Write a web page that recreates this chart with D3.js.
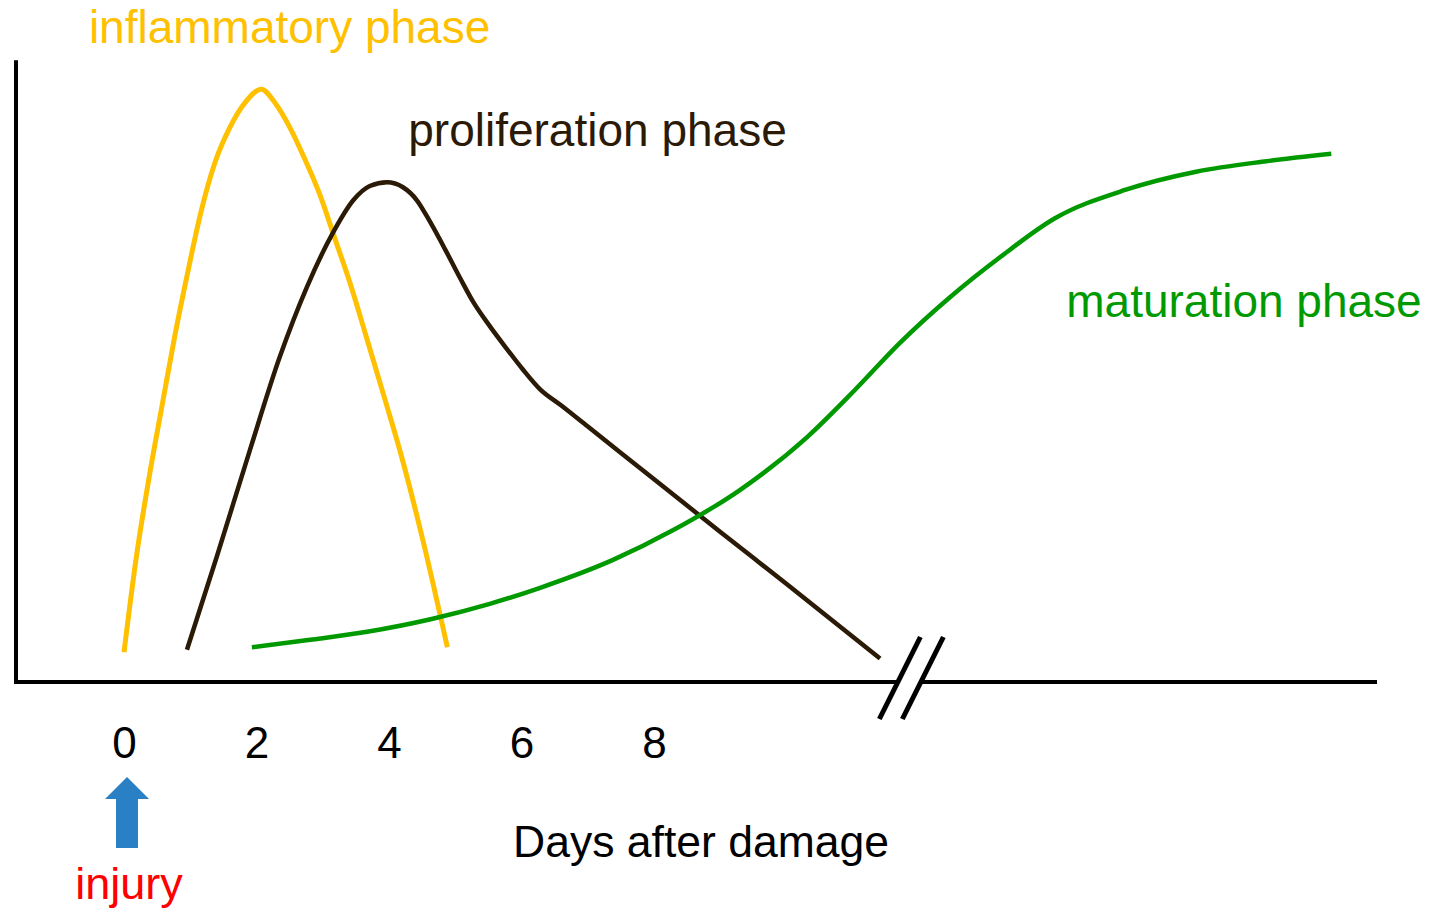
<!DOCTYPE html>
<html>
<head>
<meta charset="utf-8">
<script src="https://cdn.jsdelivr.net/npm/d3@7"></script>
<style>
    body { margin: 0; background: #fff; }
    text { font-family: "Liberation Sans", Arial, sans-serif; }
</style>
</head>
<body>
<div class="chart"></div>
<script>
// days after damage, relative level
const inflammDays = [0, 0.18, 0.39, 0.59, 0.77, 0.97, 1.15, 1.37, 1.60, 1.83, 2.07, 2.28, 2.51, 2.73, 2.96, 3.18, 3.41, 3.67, 3.94, 4.17, 4.51, 4.88];
const inflammVals = [4.8, 19.7, 33.7, 45.5, 56.0, 66.5, 75.3, 83.7, 89.5, 93.5, 95.6, 93.4, 89.3, 84.3, 78.5, 71.6, 64.4, 55.2, 45.5, 37.1, 22.9, 5.6];

const prolifDays = [0.95, 1.40, 1.90, 2.35, 2.76, 3.15, 3.46, 3.71, 3.97, 4.21, 4.42, 4.62, 4.85, 5.07, 5.27, 5.52, 5.78, 6.02, 6.28, 6.6, 7.0, 8.0, 9.0, 10.0, 11.41];
const prolifVals = [5.2, 20.2, 37.4, 52.4, 63.7, 72.4, 77.7, 80.0, 80.6, 79.8, 77.7, 74.2, 69.7, 65.2, 61.3, 57.4, 53.7, 50.4, 47.2, 44.6, 41.2, 32.7, 24.2, 15.8, 3.8];

const maturDays = [1.93, 2.81, 3.67, 4.66, 5.52, 6.28, 7.38, 8.29, 9.30, 10.31, 11.03, 11.71, 12.47, 13.22, 14.05, 15.12, 16.18, 17.24, 18.22];
const maturVals = [5.6, 6.8, 8.1, 10.2, 12.6, 15.2, 19.7, 24.5, 31.0, 39.5, 47.1, 54.7, 62.1, 68.5, 74.8, 79.4, 82.3, 84.0, 85.2];

const tickDays = [0, 2, 4, 6, 8];
const breakDay = 11.86;
const injuryDay = 0;

const phaseNames = ["inflammatory phase", "proliferation phase", "maturation phase"];
const phaseColors = ["#ffc000", "#2a1a06", "#009a00"];
const labelDays = [-0.53, 4.29, 14.22];
const labelVals = [103.1, 86.5, 58.9];

const width = 1429, height = 912;

const svg = d3.select(".chart")
    .append("svg")
    .attr("width", width)
    .attr("height", height);

let x = d3.scaleLinear().domain([-1.63, 18.91]).range([16, 1377]);
let y = d3.scaleLinear().domain([0, 100]).range([682, 62]);

// y axis (no ticks, only the line)
let yAxis = d3.axisLeft(y).ticks(0).tickSizeOuter(0);
svg.append("g")
    .attr("class", "axis y-axis")
    .attr("transform", `translate(${x(-1.63)}, 0)`)
    .call(yAxis)
    .call(g => g.select(".domain")
        .attr("stroke", "#000")
        .attr("stroke-width", 4)
        .attr("d", `M0,${y(0) + 2}V${y(100.3)}`));

// x axis line with a break
const gap = 11.5;
svg.append("line")
    .attr("x1", x(-1.63)).attr("x2", x(breakDay) - gap)
    .attr("y1", y(0)).attr("y2", y(0))
    .attr("stroke", "#000").attr("stroke-width", 4);
svg.append("line")
    .attr("x1", x(breakDay) + gap).attr("x2", x(18.91))
    .attr("y1", y(0)).attr("y2", y(0))
    .attr("stroke", "#000").attr("stroke-width", 4);

[-gap, gap].forEach(off => {
    svg.append("line")
        .attr("x1", x(breakDay) + off - 19)
        .attr("y1", y(0) + 37)
        .attr("x2", x(breakDay) + off + 22)
        .attr("y2", y(0) - 45)
        .attr("stroke", "#000")
        .attr("stroke-width", 5);
});

// tick labels
let xAxis = d3.axisBottom(x).tickValues(tickDays).tickSize(0).tickPadding(0);
svg.append("g")
    .attr("class", "axis x-axis")
    .attr("transform", `translate(0, ${y(0)})`)
    .call(xAxis)
    .call(g => g.select(".domain").remove())
    .call(g => g.selectAll("text")
        .attr("dy", null)
        .attr("y", 76)
        .attr("fill", "#000")
        .style("font-size", "44px")
        .style("font-family", "'Liberation Sans', Arial, sans-serif"));

// curves
const series = [
    inflammDays.map((d, i) => [d, inflammVals[i]]),
    prolifDays.map((d, i) => [d, prolifVals[i]]),
    maturDays.map((d, i) => [d, maturVals[i]])
];
const strokeW = [5, 4.5, 4.5];

let line = d3.line()
    .x(d => x(d[0]))
    .y(d => y(d[1]))
    .curve(d3.curveMonotoneX);

series.forEach((s, i) => {
    svg.append("path")
        .datum(s)
        .attr("fill", "none")
        .attr("stroke", phaseColors[i])
        .attr("stroke-width", strokeW[i])
        .attr("d", line);
});

// phase labels
phaseNames.forEach((name, i) => {
    svg.append("text")
        .attr("x", x(labelDays[i]))
        .attr("y", y(labelVals[i]))
        .attr("fill", phaseColors[i])
        .style("font-size", "46px")
        .text(name);
});

// injury arrow
const ax = x(injuryDay) + 3;
const arrow = d3.path();
arrow.moveTo(ax, 777);
arrow.lineTo(ax + 22, 799);
arrow.lineTo(ax + 11, 799);
arrow.lineTo(ax + 11, 848);
arrow.lineTo(ax - 11, 848);
arrow.lineTo(ax - 11, 799);
arrow.lineTo(ax - 22, 799);
arrow.closePath();
svg.append("path")
    .attr("d", arrow.toString())
    .attr("fill", "#2a80c4");

svg.append("text")
    .attr("x", ax + 2)
    .attr("y", 899)
    .attr("text-anchor", "middle")
    .attr("fill", "#ff0000")
    .style("font-size", "45px")
    .text("injury");

svg.append("text")
    .attr("x", 701)
    .attr("y", 857)
    .attr("text-anchor", "middle")
    .attr("fill", "#000")
    .style("font-size", "44.5px")
    .text("Days after damage");
</script>
</body>
</html>
